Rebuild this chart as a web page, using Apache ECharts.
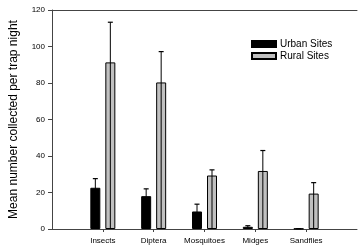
<!DOCTYPE html>
<html>
<head>
<meta charset="utf-8">
<script src="https://cdn.jsdelivr.net/npm/echarts@6/dist/echarts.min.js"></script>
<style>
  html, body { margin: 0; padding: 0; background: #fff; }
  #chart { width: 360px; height: 246px; }
</style>
</head>
<body>
<div id="chart"></div>
<script>
// categories (blank ends give the padding either side)
const categories = ['', 'Insects', 'Diptera', 'Mosquitoes', 'Midges', 'Sandflies', '']
// mean values
const urban = [null, 22.6, 18, 9.6, 1.2, 0.2, null]
const rural = [null, 91.3, 80.3, 29.3, 31.8, 19.4, null]
// upper error (top of whisker)
const urbanTop = [null, 27.6, 22, 13.6, 1.8, 0.2, null]
const ruralTop = [null, 113.3, 97.2, 32.4, 43, 25.4, null]
const yTicks = [0, 20, 40, 60, 80, 100, 120]

const font = 'Liberation Sans, Arial, sans-serif'
const chart = echarts.init(document.getElementById('chart'))

// 误差线
function errorSeries(tops, offset) {
  return {
    type: 'custom',
    xAxisIndex: 0,
    silent: true,
    z: 3,
    data: tops.map((v, i) => [i, v]).filter(d => d[1] != null),
    renderItem(params, api) {
      const base = api.coord([api.value(0), 0])
      const top = api.coord([api.value(0), api.value(1)])
      const x = base[0] + offset
      return {
        type: 'group',
        children: [
          { type: 'line', shape: { x1: x, y1: base[1], x2: x, y2: top[1] }, style: { stroke: '#000', lineWidth: 1 } },
          { type: 'line', shape: { x1: x - 2.5, y1: top[1], x2: x + 2.5, y2: top[1] }, style: { stroke: '#000', lineWidth: 1.2 } }
        ]
      }
    }
  }
}

const axisLine = { show: true, lineStyle: { color: '#444', width: 1 } }

const option = {
  animation: false,
  textStyle: { fontFamily: font },
  grid: { left: 49, right: 0, top: 10, bottom: 17 },
  legend: {
    orient: 'vertical',
    left: 251,
    top: 38,
    padding: 0,
    itemWidth: 24,
    itemHeight: 6,
    itemGap: 0,
    icon: 'rect',
    textStyle: { fontFamily: font, fontSize: 10, lineHeight: 12, color: '#000', padding: [0, 0, 0, -1] },
    data: ['Urban Sites', 'Rural Sites']
  },
  xAxis: [
    {
      type: 'category',
      data: categories,
      boundaryGap: false,
      axisLine,
      axisTick: {
        show: true,
        length: 3,
        interval: (i) => i > 0 && i < categories.length - 1,
        lineStyle: { color: '#444' }
      },
      axisLabel: { fontSize: 8, color: '#000', margin: 8, interval: 0 },
      splitLine: { show: false }
    },
    {
      type: 'category',
      data: categories,
      boundaryGap: false,
      position: 'top',
      axisLine,
      axisTick: { show: false },
      axisLabel: { show: false }
    }
  ],
  yAxis: {
    type: 'value',
    min: 0,
    max: 120,
    interval: 20,
    name: 'Mean number collected per trap night',
    nameLocation: 'middle',
    nameGap: 32,
    nameTextStyle: { fontSize: 12, color: '#000', fontFamily: font },
    axisLine,
    axisTick: { show: true, length: 4, lineStyle: { color: '#444' } },
    axisLabel: {
      fontSize: 8,
      color: '#000',
      margin: 7,
      formatter: (v) => (yTicks.includes(v) ? String(v) : '')
    },
    splitLine: { show: false }
  },
  series: [
    {
      name: 'Urban Sites',
      type: 'bar',
      data: urban,
      barWidth: 10,
      barGap: '50%',
      itemStyle: { color: '#000', borderColor: '#000', borderWidth: 1 }
    },
    {
      name: 'Rural Sites',
      type: 'bar',
      data: rural,
      barWidth: 10,
      barGap: '50%',
      itemStyle: { color: '#c0c0c0', borderColor: '#000', borderWidth: 1 }
    },
    errorSeries(urbanTop, -7.5),
    errorSeries(ruralTop, 7.5)
  ]
}

chart.setOption(option)
</script>
</body>
</html>
